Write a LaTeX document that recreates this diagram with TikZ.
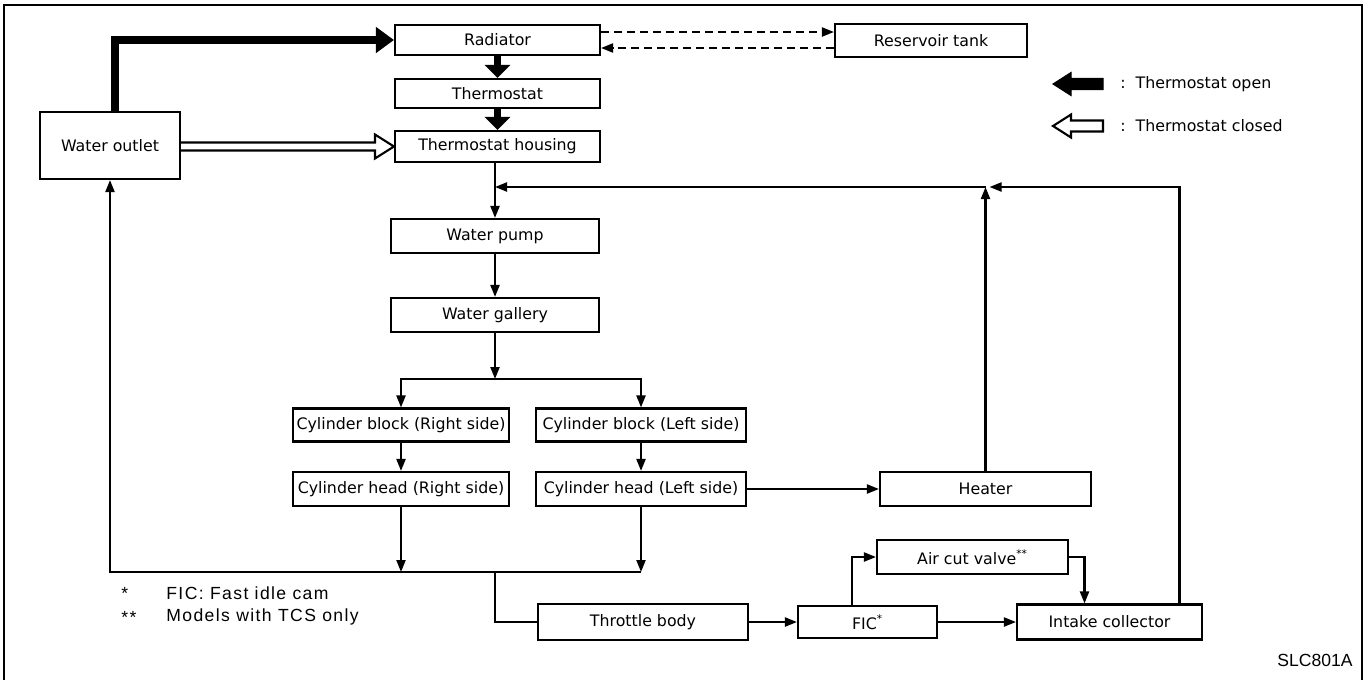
\documentclass[tikz,border=0pt]{standalone}
\usepackage{fontspec}
\setmainfont{DejaVu Sans}
\newfontfamily\notefont[LetterSpace=8]{Liberation Sans}
\newfontfamily\codefont{Liberation Sans}
\usetikzlibrary{arrows.meta,calc}
\tikzset{
    box/.style={draw,line width=1.2pt,inner sep=1pt,font=\fontsize{9}{10}\selectfont},
    flow/.style={line width=1.2pt,-{Triangle[length=2.4mm,width=1.8mm]}},
    thickflow/.style={line width=4.5pt,-{Triangle[length=#1,width=5mm]}},
    thickflow/.default=2.6mm,
    dashflow/.style={line width=1.2pt,dash pattern=on 0.16cm off 0.1cm,-{Triangle[length=2.4mm,width=1.8mm]}},
    hollow/.style={line width=1.2pt,line join=miter},
    legend/.style={font=\fontsize{9}{10}\selectfont,inner sep=0pt},
    note/.style={font=\notefont\fontsize{10}{12}\selectfont,inner sep=0pt}
}
\begin{document}
\begin{tikzpicture}[x=0.02cm,y=-0.02cm]
                \useasboundingbox (0,0) rectangle (1371,680);
                \draw[line width=1.2pt] (4,680) -- (4,5) -- (1362,5) -- (1362,680);

                \node[box,minimum width=4.1cm,minimum height=0.6cm] (rad) at (497.5,40) {Radiator};
                \node[box,minimum width=3.84cm,minimum height=0.66cm] (res) at (931,40.5) {Reservoir tank};
                \node[box,minimum width=4.1cm,minimum height=0.58cm] (thermo) at (497.5,93.5) {Thermostat};
                \node[box,minimum width=4.1cm,minimum height=0.62cm] (housing) at (497.5,146.5) {Thermostat housing};
                \node[box,minimum width=2.8cm,minimum height=1.34cm] (outlet) at (110,145.5) {Water outlet};
                \node[box,minimum width=4.16cm,minimum height=0.68cm] (pump) at (495,236) {Water pump};
                \node[box,minimum width=4.16cm,minimum height=0.68cm] (gallery) at (495,315) {Water gallery};
                \node[box,minimum width=4.32cm,minimum height=0.66cm] (blockR) at (401,425) {Cylinder block (Right side)};
                \node[box,minimum width=4.2cm,minimum height=0.66cm] (blockL) at (641,425) {Cylinder block (Left side)};
                \node[box,minimum width=4.32cm,minimum height=0.68cm] (headR) at (401,489) {Cylinder head (Right side)};
                \node[box,minimum width=4.2cm,minimum height=0.68cm] (headL) at (641,489) {Cylinder head (Left side)};
                \node[box,minimum width=4.22cm,minimum height=0.68cm] (heater) at (985.5,489) {Heater};
                \node[box,minimum width=3.82cm,minimum height=0.68cm] (acv) at (972.5,557) {Air cut valve\textsuperscript{**}};
                \node[box,minimum width=4.2cm,minimum height=0.72cm] (throttle) at (643,622) {Throttle body};
                \node[box,minimum width=2.78cm,minimum height=0.64cm] (fic) at (867.5,622) {FIC\textsuperscript{*}};
                \node[box,minimum width=3.7cm,minimum height=0.7cm] (intake) at (1109.5,622) {Intake collector};

                \draw[thickflow=3.6mm] ([xshift=0.1cm]outlet.north) |- (rad.west);
                \draw[thickflow] (rad) -- (thermo);
                \draw[thickflow] (thermo) -- (housing);
                \draw[hollow] ($(outlet.east |- housing.west)+(0,-4)$) -- ($(housing.west)+(-19,-4)$) -- ++(0,-8) -- (housing.west) -- ++(-19,12) -- ++(0,-8) -- ($(outlet.east |- housing.west)+(0,4)$);

                \coordinate (dtop) at ([yshift=0.16cm]rad.east);
                \coordinate (dbot) at ([yshift=-0.16cm]rad.east);
                \draw[dashflow] (dtop) -- (dtop -| res.west);
                \draw[dashflow] (dbot -| res.west) -- (dbot);

                \coordinate (ret) at (pump.north |- 0,187);
                \coordinate (hjoin) at (heater.north |- ret);
                \draw[flow] (pump.north |- housing.south) -- (pump.north);
                \draw[flow] ([xshift=1.4cm]intake.north) |- ([xshift=0.08cm]hjoin);
                \draw[flow] (heater) -- (hjoin);
                \draw[flow] (hjoin) -- (ret);

                \draw[flow] (pump) -- (gallery);
                \coordinate (split) at (gallery.south |- 0,379);
                \draw[flow] (gallery) -- (split);
                \draw[flow] (split) -| (blockR.north);
                \draw[flow] (split) -| (blockL.north);
                \draw[flow] (blockR) -- (headR);
                \draw[flow] (blockL) -- (headL);
                \draw[flow] (headL) -- (heater);

                \coordinate (merge) at (outlet.south |- 0,572);
                \draw[flow] (headR.south) -- (headR.south |- merge);
                \draw[flow] (headL.south) -- (headL.south |- merge);
                \draw[flow] (headL.south |- merge) -- (merge) -- (outlet.south);
                \coordinate (tap) at (495,572);
                \draw[line width=1.2pt] (tap) |- (throttle.west);
                \draw[flow] (throttle) -- (fic);
                \draw[flow] (fic) -- (intake);
                \draw[flow] ([xshift=-0.31cm]fic.north) |- (acv.west);
                \draw[flow] (acv.east) -| ([xshift=-0.5cm]intake.north);

                \draw[fill=black,line width=0.6pt] (1053,84) -- ++(18,-11.5) -- ++(0,6) -- ++(32,0) -- ++(0,11) -- ++(-32,0) -- ++(0,6) -- cycle;
                \draw[line width=1.2pt,line join=miter] (1053,126) -- ++(18,-11.5) -- ++(0,6) -- ++(32,0) -- ++(0,11) -- ++(-32,0) -- ++(0,6) -- cycle;
                \node[legend,anchor=west] (lopen) at (1120,84) {:~~Thermostat open};
                \node[legend,anchor=west] (lclosed) at (1120,126) {:~~Thermostat closed};

                \node[note,anchor=west] (star1) at (121,593) {*};
                \node[note,anchor=west] (fn1) at (166,593) {FIC: Fast idle cam};
                \node[note,anchor=west] (star2) at (121,617) {**};
                \node[note,anchor=west] (fn2) at (166,617) {Models with TCS only};
                \node[font=\codefont\fontsize{10}{12}\selectfont,inner sep=0pt,anchor=east] (code) at (1353,660) {SLC801A};
            \end{tikzpicture}
\end{document}
